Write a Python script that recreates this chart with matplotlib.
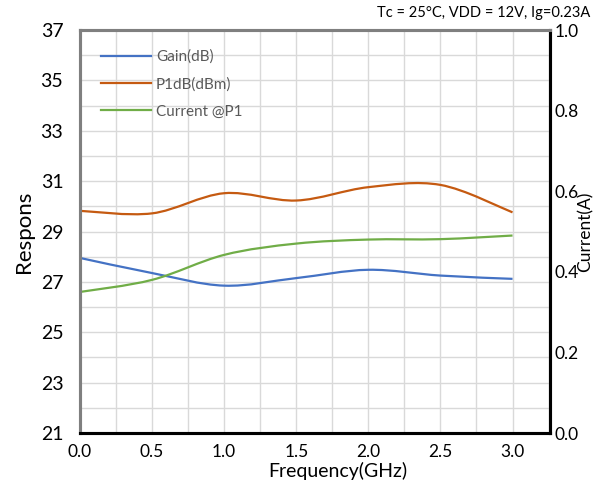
import numpy as np
import matplotlib
matplotlib.use("Agg")
import matplotlib.pyplot as plt
from matplotlib.path import Path
from matplotlib.patches import PathPatch
from matplotlib.lines import Line2D

freq = [0.0, 0.5, 1.0, 1.5, 2.0, 2.5, 3.0]
gain = [27.95, 27.35, 26.85, 27.15, 27.48, 27.25, 27.12]
p1db = [29.82, 29.72, 30.52, 30.23, 30.76, 30.85, 29.76]
current = [0.350, 0.380, 0.442, 0.470, 0.480, 0.481, 0.490]

xticks = [0.0, 0.5, 1.0, 1.5, 2.0, 2.5, 3.0]
yticks_left = [21, 23, 25, 27, 29, 31, 33, 35, 37]
yticks_right = [0.0, 0.2, 0.4, 0.6, 0.8, 1.0]

plt.rcParams['font.family'] = ['Lato', 'DejaVu Sans']

def smooth_path(x, y):
    # Excel-like smoothed line: cubic Bezier segments (Catmull-Rom control points)
    x = np.asarray(x, float); y = np.asarray(y, float)
    n = len(x)
    verts = [(x[0], y[0])]
    codes = [Path.MOVETO]
    for i in range(n - 1):
        x0, y0 = (x[i - 1], y[i - 1]) if i > 0 else (x[i], y[i])
        x3, y3 = (x[i + 2], y[i + 2]) if i + 2 < n else (x[i + 1], y[i + 1])
        c1 = (x[i] + (x[i + 1] - x0) / 6, y[i] + (y[i + 1] - y0) / 6)
        c2 = (x[i + 1] - (x3 - x[i]) / 6, y[i + 1] - (y3 - y[i]) / 6)
        verts += [c1, c2, (x[i + 1], y[i + 1])]
        codes += [Path.CURVE4] * 3
    return Path(verts, codes)

W, H = 597, 486
fig = plt.figure(figsize=(W / 100, H / 100), dpi=100)
ax = fig.add_axes([80 / W, 1 - 433 / H, 470 / W, 403 / H])
ax2 = ax.twinx()

ax.set_xlim(0, 3.26)
ax.set_ylim(21, 37)
ax2.set_ylim(0, 1.0)

ax.set_xticks(xticks)
ax.set_xticklabels([f"{t:.1f}" for t in xticks], fontsize=12.5)
ax.set_xticks(np.arange(0, 3.26, 0.25), minor=True)
ax.set_yticks(yticks_left)
ax.set_yticklabels([str(t) for t in yticks_left], fontsize=14)
ax.set_yticks(np.arange(21, 37.1, 1), minor=True)
ax2.set_yticks(yticks_right)
ax2.set_yticklabels([f"{t:.1f}" for t in yticks_right], fontsize=12.5)

ax.grid(True, which='both', color='#d9d9d9', linewidth=1.0)
ax.set_axisbelow(True)
for a in (ax, ax2):
    a.tick_params(which='both', length=0)
ax.tick_params(axis='x', pad=8)
ax.tick_params(axis='y', pad=12)
ax2.tick_params(axis='y', pad=3)

for a in (ax, ax2):
    a.spines['left'].set_color('#7f7f7f'); a.spines['left'].set_linewidth(2.2)
    a.spines['top'].set_color('#7f7f7f'); a.spines['top'].set_linewidth(2.2)
    a.spines['bottom'].set_color('black'); a.spines['bottom'].set_linewidth(2.2)
    a.spines['right'].set_color('black'); a.spines['right'].set_linewidth(2.2)

c_gain, c_p1, c_cur = '#4472c4', '#c55a11', '#70ad47'
ax.add_patch(PathPatch(smooth_path(freq, gain), fill=False, edgecolor=c_gain, lw=1.6))
ax.add_patch(PathPatch(smooth_path(freq, p1db), fill=False, edgecolor=c_p1, lw=1.6))
ax2.add_patch(PathPatch(smooth_path(freq, current), fill=False, edgecolor=c_cur, lw=1.6))

handles = [Line2D([], [], color=c_gain, lw=1.6),
           Line2D([], [], color=c_p1, lw=1.6),
           Line2D([], [], color=c_cur, lw=1.6)]
leg = ax.legend(handles, ['Gain(dB)', 'P1dB(dBm)', 'Current @P1'],
                loc='upper left', bbox_to_anchor=(0.015, 0.985), frameon=False,
                fontsize=11, handlelength=3.3, handletextpad=0.3, labelspacing=0.85)
for t in leg.get_texts():
    t.set_color('#595959')

ax.set_xlabel('Frequency(GHz)', fontsize=14)
ax.xaxis.set_label_coords((338 - 80) / 470, -(462 - 433) / 403)
ax.set_ylabel('Respons', fontsize=16)
ax.yaxis.set_label_coords(-(80 - 34) / 470, 0.5)
ax2.set_ylabel('Current(A)', fontsize=12.5)
ax2.yaxis.set_label_coords(1 + (577 - 550) / 470, 0.5)
fig.text(590 / W, 1 - 13 / H, 'Tc = 25\u00b0C, VDD = 12V, Ig=0.23A', ha='right', va='center', fontsize=10.5)

fig.savefig('out.png', dpi=100)
